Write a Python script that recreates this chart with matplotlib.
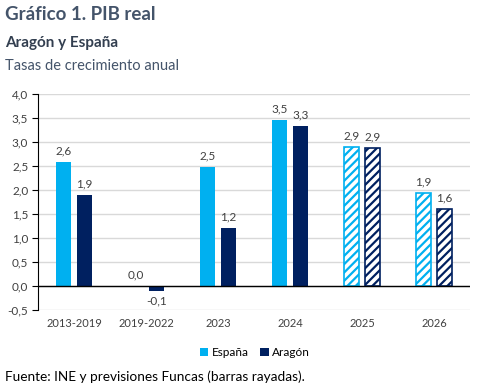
import matplotlib
matplotlib.use("Agg")
import matplotlib.pyplot as plt
from matplotlib.patches import Patch
import numpy as np

categories = ["2013-2019", "2019-2022", "2023", "2024", "2025", "2026"]
espana = [2.58, 0.0, 2.47, 3.46, 2.9, 1.94]
aragon = [1.9, -0.1, 1.2, 3.33, 2.87, 1.6]
espana_labels = ["2,6", "0,0", "2,5", "3,5", "2,9", "1,9"]
aragon_labels = ["1,9", "-0,1", "1,2", "3,3", "2,9", "1,6"]
forecast = [False, False, False, False, True, True]
yticks = [-0.5, 0.0, 0.5, 1.0, 1.5, 2.0, 2.5, 3.0, 3.5, 4.0]

c_esp = "#00B0F0"
c_ara = "#002060"
txt = "#404040"

plt.rcParams['font.family'] = ['Lato', 'DejaVu Sans']
plt.rcParams['hatch.linewidth'] = 1.6

fig = plt.figure(figsize=(4.81, 3.88), dpi=100)
ax = fig.add_axes([0.079, 0.201, 0.898, 0.557])

x = np.arange(len(categories))
w = 0.205
off = 0.145
for i in range(len(categories)):
    for val, lab, col, dx in [(espana[i], espana_labels[i], c_esp, -off),
                              (aragon[i], aragon_labels[i], c_ara, off)]:
        if forecast[i]:
            ax.bar(x[i] + dx, val, w, facecolor="white", edgecolor=col,
                   hatch="////", linewidth=1.2, zorder=3)
        else:
            ax.bar(x[i] + dx, val, w, color=col, zorder=3)
        if val >= 0:
            ax.text(x[i] + dx, val + 0.12, lab, ha="center", va="bottom",
                    fontsize=8.5, color=txt)
        else:
            ax.text(x[i] + dx, val - 0.1, lab, ha="center", va="top",
                    fontsize=8.5, color=txt)

ax.set_xlim(-0.5, len(categories) - 0.5)
ax.set_ylim(-0.5, 4.0)
ax.set_yticks(yticks)
ax.set_yticklabels([f"{v:.1f}".replace(".", ",") for v in yticks], fontsize=8.5, color=txt)
ax.set_xticks(x)
ax.set_xticklabels(categories, fontsize=8, color=txt)
ax.tick_params(axis="x", length=0, pad=6)
ax.tick_params(axis="y", length=4, direction="out", color="black", pad=3)
ax.grid(axis="y", color="#D9D9D9", linewidth=1, zorder=0)
ax.set_axisbelow(True)
for s in ["top", "right", "bottom"]:
    ax.spines[s].set_visible(False)
ax.spines["left"].set_color("black")
ax.axhline(0, color="black", linewidth=1, zorder=4)

handles = [Patch(facecolor=c_esp, label="España"), Patch(facecolor=c_ara, label="Aragón")]
fig.legend(handles=handles, loc="center", bbox_to_anchor=(0.53, 0.092), ncol=2,
           frameon=False, fontsize=8.5, handlelength=0.7, handleheight=0.7,
           handletextpad=0.3, columnspacing=1.0, labelcolor="black")

fig.text(0.010, 0.962, "Gráfico 1. PIB real", fontsize=13.5, fontweight="bold",
         color="#44546A", va="center")
fig.text(0.010, 0.889, "Aragón y España", fontsize=11, fontweight="bold",
         color="#333F50", va="center")
fig.text(0.010, 0.830, "Tasas de crecimiento anual", fontsize=10.5,
         color="#44546A", va="center")
fig.text(0.010, 0.028, "Fuente: INE y previsiones Funcas (barras rayadas).",
         fontsize=9.8, color="black", va="center")

fig.savefig("out.png", dpi=100)
